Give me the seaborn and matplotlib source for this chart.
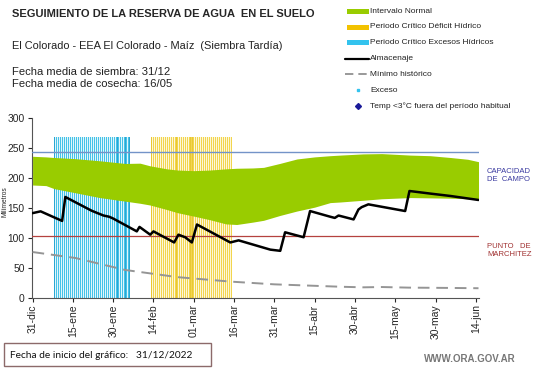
import numpy as np
import pandas as pd
import matplotlib
matplotlib.use("Agg")
import matplotlib.pyplot as plt
import seaborn as sns
from matplotlib.patches import Rectangle
from matplotlib.lines import Line2D

# ---------------- data ----------------
tick_days = [0, 15, 30, 45, 60, 75, 90, 105, 120, 135, 150, 165]
tick_labels = ["31-dic", "15-ene", "30-ene", "14-feb", "01-mar", "16-mar",
               "31-mar", "15-abr", "30-abr", "15-may", "30-may", "14-jun"]

band_days = [0, 5, 8, 16, 25, 34.5, 40, 43.8, 50, 54, 60, 66, 72, 76, 82, 86,
             92, 98.4, 105, 110.8, 114.5, 123, 130, 140.6, 148, 155.5, 162, 166]
band_upper = [236, 235, 234, 232, 228.5, 224, 224.5, 220, 215, 213, 212, 213, 215,
              216, 216.5, 217.5, 224, 231.5, 235, 237, 238, 240, 240.5, 238, 237,
              234, 231, 227]
band_lower = [188, 187, 182, 175, 167, 161, 157.5, 154.5, 147, 141.7, 136, 130, 123,
              122, 126, 129, 137, 144.5, 151, 158.6, 159.6, 162.5, 165, 167, 166.5,
              166, 165, 164]

alm_days = [0, 3, 11, 12.2, 22, 26.4, 28.5, 30, 38.8, 39.8, 43.8, 45, 52.7, 54.3,
            56.8, 59.3, 61.2, 73.6, 76.7, 88.5, 92.2, 94, 100.9, 103.3, 110.8,
            112.5, 113.9, 119.5, 121.3, 122.5, 125, 138.7, 140.3, 148, 155.5, 166]
alm_vals = [141, 144, 128, 168, 145, 137, 135, 132, 110.5, 118, 105, 110.5, 92, 105,
            100.7, 92, 122, 92, 95.5, 80, 78, 109, 100.7, 144.5, 135, 133, 137,
            130.5, 147, 151, 155.7, 144.5, 178, 173.7, 169.7, 163]

min_days = [0, 16, 34.5, 54, 73.6, 90, 114.5, 123, 130, 140, 155, 166]
min_vals = [76, 66, 46, 34, 26.6, 22, 18, 17, 17.5, 16.5, 16, 15.5]

exceso_start, exceso_end = 8, 36       # Periodo Crítico Excesos Hídricos (days from 31-dic)
deficit_start, deficit_end = 44, 74    # Periodo Crítico Déficit Hídrico
period_height = 268

capacidad_campo = 243
punto_marchitez = 102

# ---------------- plot ----------------
sns.set_style("white")
plt.rcParams['font.family'] = ['Liberation Sans', 'DejaVu Sans']

W, H = 541, 368
fig = plt.figure(figsize=(W / 100, H / 100), dpi=100)
ax = fig.add_axes([32.3 / W, 1 - 297.5 / H, (478.5 - 32.3) / W, (297.5 - 118) / H])

def fx(px):
    return px / W

def fy(py):
    return 1 - py / H

# period bars: light background + dense stripes (about one stripe every 2 px)
step = 0.7445
for start, end, bg, fg, dark, darks in [
        (exceso_start, exceso_end, "#E2F5FB", "#45C3E8", "#2AA6D3", [8, 31.5, 34.5, 36]),
        (deficit_start, deficit_end, "#FDF7DA", "#F2D54E", "#E9C834", [44, 53.5, 58.5, 59.5])]:
    ax.bar(start, period_height, width=end - start, align="edge", color=bg,
           linewidth=0, zorder=1)
    xs = np.arange(start, end + 0.01, step)
    ax.vlines(xs, 0, period_height, colors=fg, lw=0.72, zorder=1.1, antialiased=False)
    ax.vlines(darks, 0, period_height, colors=dark, lw=0.72, zorder=1.2, antialiased=False)

# normal interval band
ax.fill_between(band_days, band_lower, band_upper, color="#99CC00", linewidth=0, zorder=2)

# reference lines
ax.axhline(capacidad_campo, color="#7393C8", lw=1.0, zorder=3)
ax.axhline(punto_marchitez, color="#B5423F", lw=0.9, zorder=3)

df_alm = pd.DataFrame({"dia": alm_days, "mm": alm_vals})
df_min = pd.DataFrame({"dia": min_days, "mm": min_vals})
sns.lineplot(data=df_min, x="dia", y="mm", ax=ax, color="#959595", lw=1.4,
             zorder=4, linestyle=(0, (6, 3.5)))
sns.lineplot(data=df_alm, x="dia", y="mm", ax=ax, color="black", lw=1.8, zorder=5)

ax.set_xlim(-0.1, 166)
ax.set_ylim(0, 300)
ax.set_xticks(tick_days)
ax.set_xticklabels(tick_labels, rotation=90, fontsize=7.5)
ax.set_yticks([0, 50, 100, 150, 200, 250, 300])
ax.tick_params(axis="y", labelsize=7.4, length=3, width=0.8, pad=2.5, direction="out", left=True)
ax.tick_params(axis="x", length=3, width=0.8, pad=2, direction="out", bottom=True)
ax.set_xlabel("")
ax.set_ylabel("")
for s in ["top", "right"]:
    ax.spines[s].set_visible(False)
for s in ["left", "bottom"]:
    ax.spines[s].set_color("#555555")
    ax.spines[s].set_linewidth(0.8)

fig.text(fx(5.5), fy(202), "Milímetros", rotation=90, fontsize=4.8, ha="center", va="center")

# titles
fig.text(fx(12), fy(14), "SEGUIMIENTO DE LA RESERVA DE AGUA  EN EL SUELO",
         fontsize=8, fontweight="bold", va="center")
fig.text(fx(12), fy(46), "El Colorado - EEA El Colorado - Maíz  (Siembra Tardía)",
         fontsize=7.9, va="center", color="#222222")
fig.text(fx(12), fy(72), "Fecha media de siembra: 31/12", fontsize=8.1, va="center",
         color="#222222")
fig.text(fx(12), fy(84), "Fecha media de cosecha: 16/05", fontsize=8.1, va="center",
         color="#222222")

# legend (manual)
leg_fs = 6
def patch(y, color):
    fig.add_artist(Rectangle((fx(346.5), fy(y + 2.5)), fx(368.5) - fx(346.5),
                             fy(y - 2.5) - fy(y + 2.5), transform=fig.transFigure,
                             color=color, lw=0))
patch(11.5, "#99CC00")
patch(27, "#F2C200")
patch(42.7, "#33C3EE")
fig.add_artist(Line2D([fx(345), fx(368.5)], [fy(58.5), fy(58.5)], color="black",
                      lw=1.6, transform=fig.transFigure))
fig.add_artist(Line2D([fx(345), fx(368.5)], [fy(74), fy(74)], color="#888888",
                      lw=1.2, linestyle=(0, (5, 3)), transform=fig.transFigure))
fig.add_artist(Line2D([fx(358)], [fy(90)], marker="s", ms=2, color="#33C3EE",
                      lw=0, transform=fig.transFigure))
fig.add_artist(Line2D([fx(358)], [fy(106)], marker="D", ms=3, color="#1A1A99",
                      lw=0, transform=fig.transFigure))
leg_items = [(11.5, "Intervalo Normal"), (27, "Periodo Crítico Déficit Hídrico"),
             (42.7, "Periodo Crítico Excesos Hídricos"), (58.5, "Almacenaje"),
             (74, "Mínimo histórico"), (90, "Exceso"),
             (106, "Temp <3°C fuera del período habitual")]
for y, t in leg_items:
    xoff = 369.5 if y < 85 else 370.5
    fig.text(fx(xoff), fy(y), t, fontsize=leg_fs, va="center", color="#222222")

# right side labels
fig.text(fx(487), fy(175), "CAPACIDAD\nDE  CAMPO", fontsize=5.5, va="center",
         color="#3A3AA0", linespacing=1.2)
fig.text(fx(487), fy(251), "PUNTO   DE\nMARCHITEZ", fontsize=5.5, va="center",
         color="#A03030", linespacing=1.2)

# bottom box
fig.text(fx(10), fy(355), "Fecha de inicio del gráfico:   31/12/2022", fontsize=7.3,
         va="center", family=["Lato", "DejaVu Sans"], color="#111111")
fig.add_artist(Rectangle((fx(3.5), fy(366)), fx(211) - fx(3.5), fy(343) - fy(366),
                         transform=fig.transFigure, fill=False, ec="#8C6A6A", lw=1.0))
fig.text(fx(424), fy(359), "WWW.ORA.GOV.AR", fontsize=7, va="center",
         color="#777777", fontweight="bold")

fig.savefig("out.png", dpi=100)
